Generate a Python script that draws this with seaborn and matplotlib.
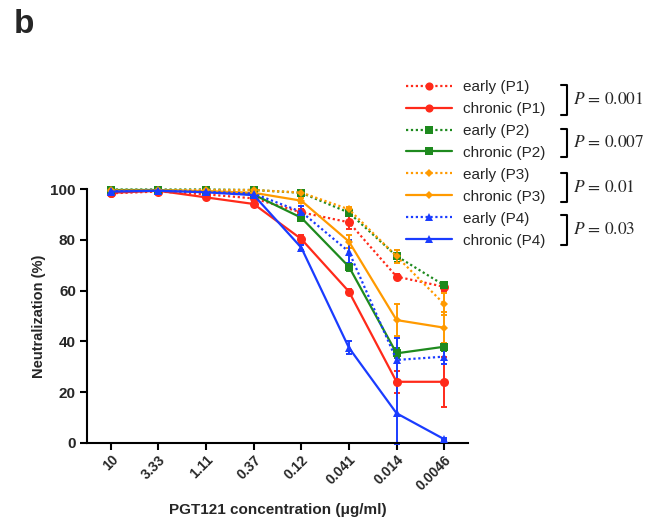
import numpy as np
import pandas as pd
import matplotlib
matplotlib.use("Agg")
import matplotlib.pyplot as plt
from matplotlib.lines import Line2D
import seaborn as sns

# PGT121 dilution series (µg/ml), highest to lowest
concentrations = ["10", "3.33", "1.11", "0.37", "0.12", "0.041", "0.014", "0.0046"]

# Mean neutralization (%) per virus
early_p1 = [98.3, 99.0, 97.9, 96.3, 90.8, 86.9, 65.5, 61.5]
chronic_p1 = [98.5, 99.3, 96.7, 94.1, 80.3, 59.6, 24.1, 24.1]
early_p2 = [99.8, 99.8, 99.8, 99.6, 98.5, 90.7, 73.6, 62.1]
chronic_p2 = [99.6, 99.6, 99.0, 97.8, 88.7, 69.4, 35.3, 37.9]
early_p3 = [99.5, 99.5, 99.6, 99.6, 98.6, 92.0, 73.5, 54.7]
chronic_p3 = [99.3, 99.4, 99.2, 98.5, 95.4, 79.3, 48.4, 45.4]
early_p4 = [99.2, 99.3, 98.9, 98.2, 91.0, 75.3, 32.7, 34.0]
chronic_p4 = [99.0, 99.3, 98.7, 97.6, 76.9, 37.5, 11.7, 1.5]

# Error (SEM) per point
early_p1_err = [0.5, 0.5, 0.5, 0.8, 1.5, 2.5, 1.0, 1.5]
chronic_p1_err = [0.5, 0.5, 0.5, 0.8, 1.5, 1.0, 4.3, 9.8]
early_p2_err = [0.3, 0.3, 0.3, 0.3, 0.8, 1.2, 2.5, 1.0]
chronic_p2_err = [0.3, 0.3, 0.3, 0.5, 1.0, 1.5, 2.0, 1.5]
early_p3_err = [0.3, 0.3, 0.3, 0.3, 0.8, 1.0, 2.5, 4.3]
chronic_p3_err = [0.3, 0.3, 0.3, 0.5, 1.0, 2.5, 6.4, 6.0]
early_p4_err = [0.3, 0.3, 0.5, 0.8, 2.5, 4.5, 8.5, 3.0]
chronic_p4_err = [0.3, 0.3, 0.5, 0.8, 1.0, 2.5, 12.0, 0.5]

p_values = ["0.001", "0.007", "0.01", "0.03"]

red = "#FF2A1A"
green = "#1E8A1E"
orange = "#FF9A00"
blue = "#1A3CFF"

series = [
    ("early (P1)", early_p1, early_p1_err, red, "o", 6.5, True),
    ("chronic (P1)", chronic_p1, chronic_p1_err, red, "o", 6.5, False),
    ("early (P2)", early_p2, early_p2_err, green, "s", 6.0, True),
    ("chronic (P2)", chronic_p2, chronic_p2_err, green, "s", 6.0, False),
    ("early (P3)", early_p3, early_p3_err, orange, "D", 4.4, True),
    ("chronic (P3)", chronic_p3, chronic_p3_err, orange, "D", 4.4, False),
    ("early (P4)", early_p4, early_p4_err, blue, "^", 6.0, True),
    ("chronic (P4)", chronic_p4, chronic_p4_err, blue, "^", 6.0, False),
]

sns.set_theme(style="ticks")
plt.rcParams["font.family"] = ["Liberation Sans", "DejaVu Sans"]
plt.rcParams["mathtext.fontset"] = "stix"

fig = plt.figure(figsize=(6.56, 5.22), dpi=100)
ax = fig.add_axes([87 / 656, 1 - 443 / 522, (468 - 87) / 656, (443 - 189) / 522])

dotted = (0, (1.0, 1.2))
pos = np.arange(len(concentrations))

for label, vals, errs, color, marker, ms, early in series:
    df = pd.DataFrame({"pos": pos, "neut": vals})
    ls = dotted if early else "-"
    ax.errorbar(pos, vals, yerr=errs, fmt="none", ecolor=color, elinewidth=1.4,
                capsize=2.5, capthick=1.4, clip_on=False, zorder=2)
    sns.lineplot(data=df, x="pos", y="neut", ax=ax, color=color, linestyle=ls,
                 linewidth=1.6, marker=marker, markersize=ms, markeredgewidth=0,
                 clip_on=False, zorder=3, legend=False)

ax.set_xlim(-0.5, 7.5)
ax.set_ylim(0, 100)
ax.set_xticks(pos)
ax.set_xticklabels(concentrations, rotation=45, ha="right", va="top",
                   rotation_mode="anchor", fontsize=10, fontweight="bold")
ax.set_yticks([0, 20, 40, 60, 80, 100])
ax.set_yticklabels(["0", "20", "40", "60", "80", "100"], fontsize=11, fontweight="bold")
ax.tick_params(axis="both", length=5, width=1.5, color="black", pad=3)
ax.tick_params(axis="x", pad=2)
for side in ["left", "bottom"]:
    ax.spines[side].set_linewidth(1.5)
    ax.spines[side].set_color("black")
sns.despine(ax=ax)
ax.set_xlabel("PGT121 concentration (μg/ml)", fontsize=11, fontweight="bold", labelpad=7)
ax.set_ylabel("Neutralization (%)", fontsize=10.5, fontweight="bold", labelpad=3)

fig.text(14 / 656, 1 - 33 / 522, "b", fontsize=24, fontweight="bold", ha="left", va="baseline")

# Legend of all eight viruses
handles = []
for label, vals, errs, color, marker, ms, early in series:
    handles.append(Line2D([], [], color=color, linestyle=dotted if early else "-",
                          linewidth=1.6, marker=marker, markersize=ms * 0.9,
                          markeredgewidth=0, label=label))
fig.legend(handles=handles, loc="upper left", bbox_to_anchor=(406 / 656, 1 - 80 / 522),
           frameon=False, fontsize=11, handlelength=3.0, handletextpad=0.75,
           labelspacing=0.52, borderpad=0, borderaxespad=0)

# Brackets pairing early/chronic with P values
bracket_y = [(85, 115), (129, 157), (173, 202), (215, 245)]
for (y0, y1), p in zip(bracket_y, p_values):
    xs = np.array([561, 567, 567, 561]) / 656
    ys = 1 - np.array([y0, y0, y1, y1]) / 522
    fig.add_artist(Line2D(xs, ys, color="black", linewidth=1.5))
    fig.text(573 / 656, 1 - (y0 + y1) / 2 / 522, r"$P$ = " + p, fontsize=12.5,
             family="STIXGeneral", ha="left", va="center")

fig.savefig("out.png", dpi=100)
